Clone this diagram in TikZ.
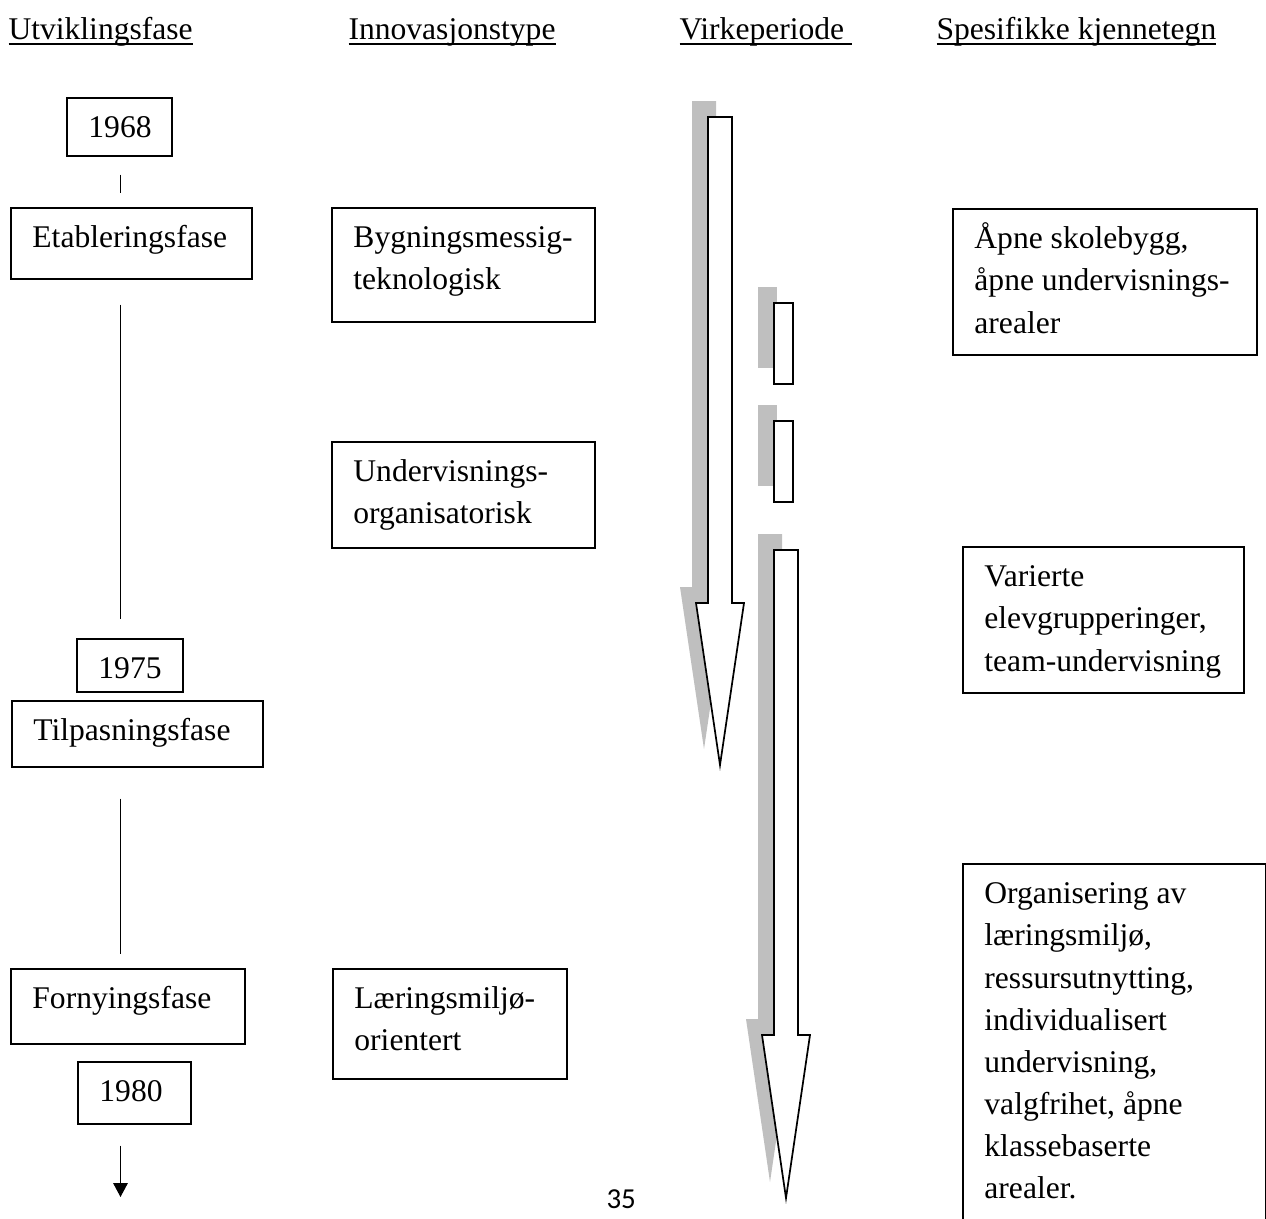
\documentclass[tikz,border=0pt]{standalone}
\usepackage{fontspec}
\setmainfont{Liberation Serif}
\newfontfamily\sidetall{Carlito}
\usepackage{tikz}
\usetikzlibrary{arrows.meta}
\newcommand{\understrek}[1]{\setbox0=\hbox{#1}\rlap{\copy0}\rule[-2.2pt]{\wd0}{0.6pt}}
\tikzstyle{boks} = [draw, rectangle, line width=0.65pt, anchor=north west, align=flush left,
    inner xsep=8.2pt, inner ysep=0pt, text height=15.2pt, font=\fontsize{12}{16}\selectfont]
\tikzstyle{overskrift} = [anchor=base west, inner sep=0pt, font=\fontsize{12}{16}\selectfont]
\tikzstyle{line} = [draw, line width=0.6pt]
\tikzstyle{pil} = [line, -{Triangle[length=5.3pt,width=5.5pt]}]
\tikzstyle{skygge} = [fill=gray!50, shift={(-16,-16)}]
\tikzstyle{blokk} = [draw, fill=white, line width=0.65pt]

\begin{document}
\begin{tikzpicture}[x=0.38pt, y=-0.38pt]
    \useasboundingbox (0,0) rectangle (1266,1218);
    \node [overskrift] (hfase) at (8,39) {\understrek{Utviklingsfase}};
    \node [overskrift] (htype) at (348,39) {\understrek{Innovasjonstype}};
    \node [overskrift] (hperiode) at (679,39) {\understrek{Virkeperiode~}};
    \node [overskrift] (hkjenne) at (936,39) {\understrek{Spesifikke kjennetegn}};
    \node [boks, text width=23.5pt, text depth=6.84pt] (y1968) at (66,97) {1968};
    \node [boks, text width=75.18pt, text depth=11.78pt] (etab) at (10,207) {Etableringsfase};
    \node [boks, text width=23.88pt, text depth=4.94pt] (y1975) at (76,638) {1975};
    \node [boks, text width=78.98pt, text depth=9.88pt] (tilp) at (11,700) {Tilpasningsfase};
    \node [boks, text width=72.52pt, text depth=13.3pt] (forny) at (10,968) {Fornyingsfase};
    \node [boks, text width=26.54pt, text depth=8.36pt] (y1980) at (77,1061) {1980};
    \node [boks, text width=83.54pt, text depth=28.12pt] (bygn) at (331,207) {Bygningsmessig-\\teknologisk};
    \node [boks, text width=83.54pt, text depth=25.08pt] (underv) at (331,441) {Undervisnings-\\organisatorisk};
    \node [boks, text width=72.52pt, text depth=26.6pt] (laer) at (332,968) {Læringsmiljø-\\orientert};
    \node [boks, text width=99.12pt, text depth=40.28pt] (aapne) at (952,208) {Åpne skolebygg,\\\mbox{åpne undervisnings-}\\arealer};
    \node [boks, text width=90.38pt, text depth=40.28pt] (varierte) at (962,546) {Varierte\\elevgrupperinger,\\\mbox{team-undervisning}};
    \node [boks, text width=98.74pt, text depth=126.16pt] (organ) at (962,863) {Organisering av\\læringsmiljø,\\ressursutnytting,\\individualisert\\undervisning,\\valgfrihet, åpne\\klassebaserte\\arealer.};
    \node [overskrift, font=\sidetall\fontsize{11}{13}\selectfont] (side) at (606,1208) {35};
    \coordinate (akse) at (120.5,0);
    \coordinate (slutt) at (120.5,1197);
    \path [line, shorten <=6.84pt, shorten >=5.32pt] (y1968.south -| akse) -- (etab.north -| akse);
    \path [line, shorten <=9.5pt, shorten >=7.22pt] (etab.south -| akse) -- (y1975.north -| akse);
    \path [line, shorten <=11.78pt, shorten >=5.32pt] (tilp.south -| akse) -- (forny.north -| akse);
    \path [pil, shorten <=7.98pt] (y1980.south -| akse) -- (slutt);
    \foreach \stil in {skygge, blokk} {
        \path [\stil] (708,117) -- (732,117) -- (732,603) -- (744,603) -- (720,765) -- (696,603) -- (708,603) -- cycle;
        \path [\stil] (774,550) -- (798,550) -- (798,1035) -- (810,1035) -- (786,1198) -- (762,1035) -- (774,1035) -- cycle;
        \foreach \ya/\yb in {303/384, 421/502}
            \path [\stil] (774,\ya) rectangle (793,\yb);
    }
\end{tikzpicture}
\end{document}
